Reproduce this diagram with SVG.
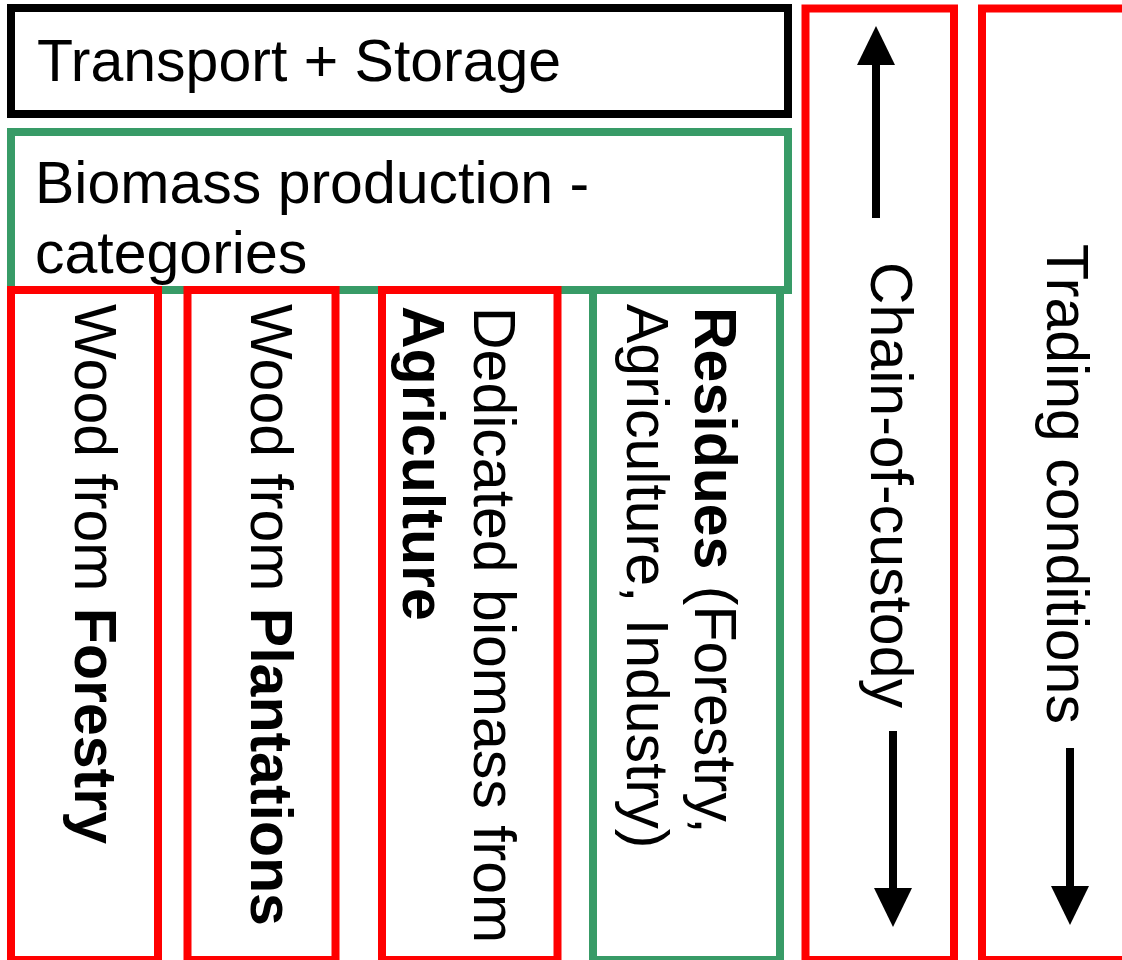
<svg xmlns="http://www.w3.org/2000/svg" width="1122" height="960" viewBox="0 0 1122 960">
  <style>
    .box { fill: #ffffff; stroke-width: 8; }
    .blk { stroke: #000000; }
    .grn { stroke: #389B67; }
    .red { stroke: #FF0000; }
    text { font-family: "Liberation Sans", Arial, sans-serif; font-size: 59px; fill: #000000; }
    .b { font-weight: bold; }
    .arrow { stroke: #000000; stroke-width: 8; fill: none; marker-end: url(#head); }
  </style>
  <defs>
    <marker id="head" markerUnits="userSpaceOnUse" markerWidth="39" markerHeight="38" viewBox="0 0 39 38" refX="0" refY="19" orient="auto">
      <path d="M0,0 L39,19 L0,38 Z" fill="#000000"/>
    </marker>
  </defs>
  <rect x="0" y="0" width="1122" height="960" fill="#ffffff"/>

  <g id="transport-storage">
    <rect class="box blk" x="11" y="8" width="777" height="106"/>
    <text x="37" y="81">Transport + Storage</text>
  </g>

  <g id="biomass-production">
    <rect class="box grn" x="11" y="132" width="777" height="158"/>
    <text x="35" y="203">Biomass production -</text>
    <text x="35" y="273">categories</text>
  </g>

  <g id="wood-forestry">
    <rect class="box red" x="11" y="290" width="147" height="670"/>
    <text transform="translate(75,304) rotate(90)">Wood from <tspan class="b">Forestry</tspan></text>
  </g>

  <g id="wood-plantations">
    <rect class="box red" x="187.5" y="290" width="148" height="670"/>
    <text transform="translate(251,304) rotate(90)">Wood from <tspan class="b">Plantations</tspan></text>
  </g>

  <g id="dedicated-agriculture">
    <rect class="box red" x="382" y="290" width="175.5" height="670"/>
    <text transform="translate(474,307) rotate(90)">Dedicated biomass from</text>
    <text class="b" transform="translate(403,306) rotate(90)">Agriculture</text>
  </g>

  <g id="residues">
    <rect class="box grn" x="593" y="290" width="187" height="670"/>
    <text transform="translate(695,307) rotate(90)"><tspan class="b">Residues</tspan> (Forestry,</text>
    <text transform="translate(627,304) rotate(90)">Agriculture, Industry)</text>
  </g>

  <g id="chain-of-custody">
    <rect class="box red" x="805.5" y="8.5" width="148.5" height="951.5"/>
    <text transform="translate(871,262) rotate(90)">Chain-of-custody</text>
  </g>

  <g id="trading-conditions">
    <rect class="box red" x="982" y="8.5" width="200" height="951.5"/>
    <text transform="translate(1047,244) rotate(90)">Trading conditions</text>
  </g>

  <g id="connectors">
    <line class="arrow" x1="876" y1="218" x2="876" y2="65"/>
    <line class="arrow" x1="893" y1="731" x2="893" y2="888"/>
    <line class="arrow" x1="1070" y1="748" x2="1070" y2="886"/>
  </g>
</svg>
